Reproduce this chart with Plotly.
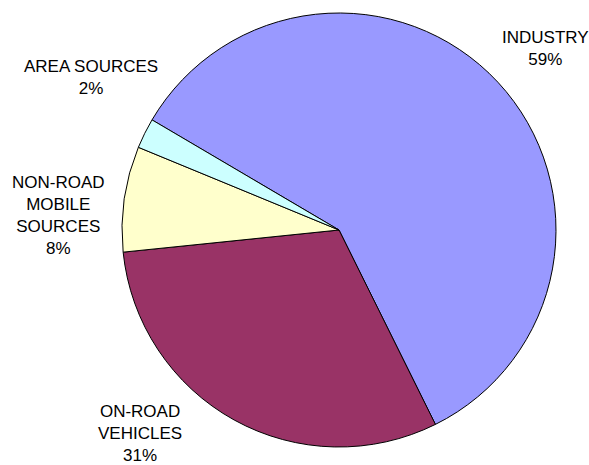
import plotly.graph_objects as go

categories = ["INDUSTRY", "ON-ROAD VEHICLES", "NON-ROAD MOBILE SOURCES", "AREA SOURCES"]
display_labels = ["INDUSTRY", "ON-ROAD<br>VEHICLES", "NON-ROAD<br>MOBILE<br>SOURCES", "AREA SOURCES"]
values = [59.2, 30.7, 7.85, 2.25]
colors = ["#9999FF", "#993366", "#FFFFCC", "#CCFFFF"]

W, H = 589, 465


def px_x(x):
    return x / W


def px_y(y):
    return 1 - y / H


fig = go.Figure(go.Pie(
    labels=categories,
    values=values,
    sort=False,
    direction="clockwise",
    rotation=-59.5,
    marker=dict(colors=colors, line=dict(color="black", width=1)),
    textinfo="none",
    hoverinfo="label+percent",
    showlegend=False,
    domain=dict(x=[px_x(122), px_x(556)], y=[px_y(447), px_y(13)]),
))

total = sum(values)
label_pos = [(545, 48), (140, 433), (58, 215), (91, 78)]
for lab, v, (px, py) in zip(display_labels, values, label_pos):
    fig.add_annotation(
        x=px_x(px), y=px_y(py), xref="paper", yref="paper",
        text=f"{lab}<br>{round(100 * v / total)}%",
        showarrow=False, xanchor="center", yanchor="middle", align="center",
        font=dict(family="Liberation Sans, Arial, sans-serif", size=17, color="black"),
    )

fig.update_layout(
    width=W, height=H,
    margin=dict(l=0, r=0, t=0, b=0),
    paper_bgcolor="white", plot_bgcolor="white",
)
fig.write_html(
    "out.html",
    config={"displayModeBar": False},
    post_script="document.body.style.margin='0px';document.body.style.overflow='hidden';",
)
